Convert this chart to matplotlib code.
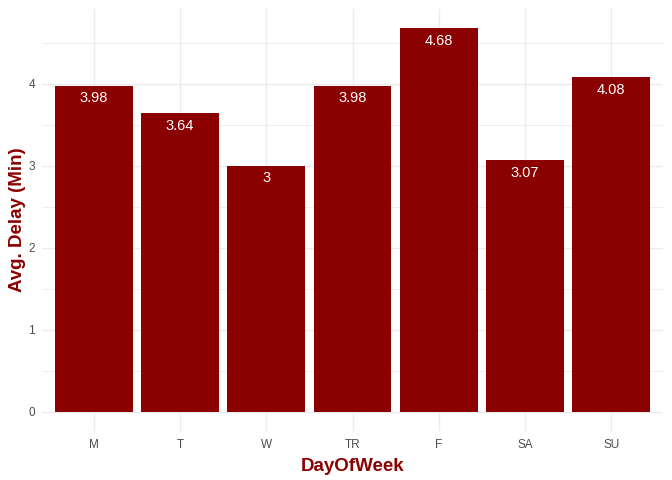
import matplotlib
matplotlib.use("Agg")
import matplotlib.pyplot as plt
import numpy as np

days = ["M", "T", "W", "TR", "F", "SA", "SU"]
avg_delay = [3.98, 3.64, 3.00, 3.98, 4.68, 3.07, 4.08]
value_labels = ["3.98", "3.64", "3", "3.98", "4.68", "3.07", "4.08"]

plt.rcParams['font.family'] = ['Liberation Sans', 'DejaVu Sans']

fig = plt.figure(figsize=(6.72, 4.8), dpi=100)
W, H = 672, 480
left, right, top, bottom = 42, 663, 9, 431
ax = fig.add_axes([left / W, 1 - bottom / H, (right - left) / W, (bottom - top) / H])

x = np.arange(1, len(days) + 1)
ax.set_xlim(0.4, len(days) + 0.6)
ax.set_ylim(-0.05 * max(avg_delay), max(avg_delay) + 0.05 * max(avg_delay))

for s in ax.spines.values():
    s.set_visible(False)

ax.set_yticks([0, 1, 2, 3, 4])
ax.set_yticks([0.5, 1.5, 2.5, 3.5, 4.5], minor=True)
ax.set_xticks(x)
ax.set_xticklabels(days)
ax.grid(True, which='major', color='#EBEBEB', linewidth=1.0)
ax.grid(True, which='minor', axis='y', color='#EBEBEB', linewidth=0.6)
ax.set_axisbelow(True)
ax.tick_params(axis='both', which='both', length=0, labelsize=8.5, labelcolor='#4D4D4D')
ax.tick_params(axis='x', pad=6)
ax.tick_params(axis='y', pad=5)

ax.bar(x, avg_delay, width=0.9, color='#8B0000', zorder=2)
for xi, v, lab in zip(x, avg_delay, value_labels):
    ax.annotate(lab, (xi, v), xytext=(0, -4), textcoords='offset points',
                ha='center', va='top', color='white', fontsize=10.5, zorder=3)

ax.set_xlabel("DayOfWeek", fontsize=13.5, fontweight='bold', color='#8B0000', labelpad=5)
ax.set_ylabel("Avg. Delay (Min)", fontsize=13.5, fontweight='bold', color='#8B0000', labelpad=2)

fig.savefig("out.png", dpi=100, facecolor='white')
